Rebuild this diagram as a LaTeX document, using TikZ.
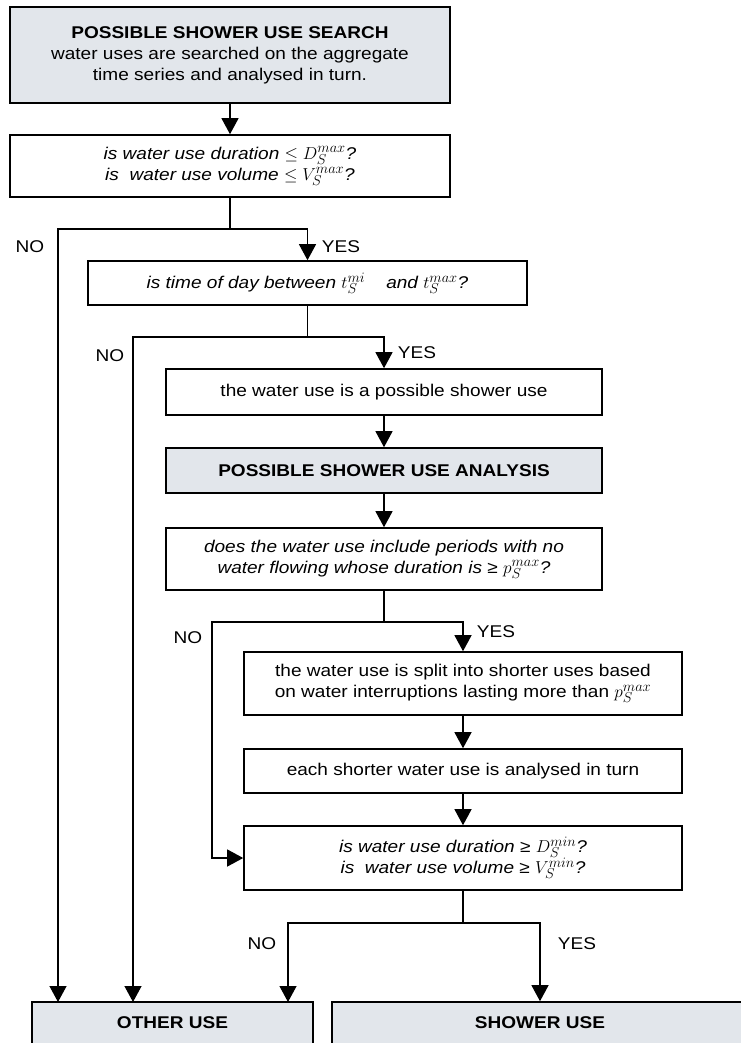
\documentclass[tikz,border=0pt]{standalone}
\usepackage{fontspec}
\setmainfont{Liberation Sans}[FakeStretch=1.12]
\usepackage{tikz}
\usetikzlibrary{arrows.meta}
\definecolor{boxgray}{RGB}{226,230,235}
\DeclareMathSizes{17}{18.5}{14}{11}

\begin{document}
\begin{tikzpicture}[x=1pt,y=-1pt,
    font=\fontsize{17}{21}\selectfont,
    box/.style={draw, line width=1.6pt, rectangle, align=center, inner sep=0pt},
    graybox/.style={box, fill=boxgray, font=\fontsize{17}{21}\selectfont\bfseries},
    askbox/.style={box, font=\fontsize{17}{21}\selectfont\itshape},
    link/.style={line width=1.2pt},
    arrow/.style={link, -{Triangle[length=16pt,width=17pt]}},
    lbl/.style={inner sep=0pt}]
    \useasboundingbox (0,0) rectangle (740,1043);

    \node[graybox, minimum width=440pt, minimum height=96pt] (search) at (230,55)
        {POSSIBLE SHOWER USE SEARCH\\\mdseries water uses are searched on the aggregate\\\mdseries time series and analysed in turn.};
    \node[askbox, minimum width=440pt, minimum height=62pt] (q1) at (230,166)
        {is water use duration $\leq D_S^{max}$?\\is\ \ water use volume $\leq V_S^{max}$?};
    \node[askbox, minimum width=439pt, minimum height=44pt] (q2) at (307.5,283)
        {is time of day between $t_S^{mi}$\ \ \ \ and $t_S^{max}$?};
    \node[box, minimum width=436pt, minimum height=46pt] (possible) at (384,392)
        {the water use is a possible shower use};
    \node[graybox, minimum width=436pt, minimum height=45pt] (analysis) at (384,470.5)
        {POSSIBLE SHOWER USE ANALYSIS};
    \node[askbox, minimum width=436pt, minimum height=62pt] (q3) at (384,559)
        {does the water use include periods with no\\water flowing whose duration is ≥ $p_S^{max}$?};
    \node[box, minimum width=438pt, minimum height=63pt] (split) at (463,683.5)
        {the water use is split into shorter uses based\\on water interruptions lasting more than $p_S^{max}$};
    \node[box, minimum width=438pt, minimum height=44pt] (each) at (463,771)
        {each shorter water use is analysed in turn};
    \node[askbox, minimum width=438pt, minimum height=64pt] (q4) at (463,858)
        {is water use duration ≥ $D_S^{min}$?\\is\ \ water use volume ≥ $V_S^{min}$?};
    \node[graybox, minimum width=281pt, minimum height=42pt] (other) at (172.5,1023) {OTHER USE};
    \node[graybox, minimum width=416pt, minimum height=42pt] (shower) at (540,1023) {SHOWER USE};

    \node[lbl] (no1) at (30,247) {NO};
    \node[lbl] (yes1) at (341,247) {YES};
    \node[lbl] (no2) at (110,356) {NO};
    \node[lbl] (yes2) at (417,353) {YES};
    \node[lbl] (no3) at (188,638) {NO};
    \node[lbl] (yes3) at (496,632) {YES};
    \node[lbl] (no4) at (262,944) {NO};
    \node[lbl] (yes4) at (577,944) {YES};

    \coordinate (j1) at (230,229);
    \coordinate (e1) at (58,1002);
    \coordinate (j2) at (307.5,337);
    \coordinate (e2) at (133,1002);
    \coordinate (j3) at (384,622);
    \coordinate (k3) at (212,622);
    \coordinate (j4) at (463,923);
    \coordinate (e4) at (288,1002);

    \draw[arrow] (search) -- (q1);
    \draw[link] (q1) -- (j1);
    \draw[arrow] (j1) -| (e1);
    \draw[arrow] (j1) -| (q2.north);
    \draw[link] (q2) -- (j2);
    \draw[arrow] (j2) -| (e2);
    \draw[arrow] (j2) -| (possible.north);
    \draw[arrow] (possible) -- (analysis);
    \draw[arrow] (analysis) -- (q3);
    \draw[link] (q3) -- (j3);
    \draw[arrow] (j3) -- (k3) |- (q4.west);
    \draw[arrow] (j3) -| (split.north);
    \draw[arrow] (split) -- (each);
    \draw[arrow] (each) -- (q4);
    \draw[link] (q4) -- (j4);
    \draw[arrow] (j4) -| (e4);
    \draw[arrow] (j4) -| (shower.north);
\end{tikzpicture}
\end{document}
